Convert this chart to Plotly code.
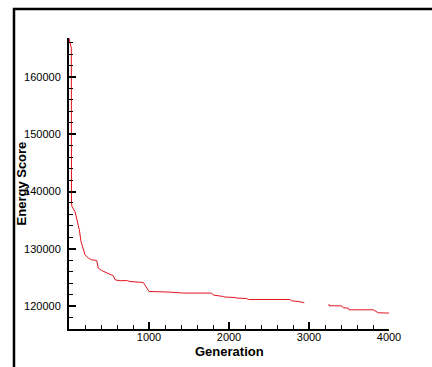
import plotly.graph_objects as go

generation = [0, 29, 31, 37, 75, 87, 108, 129, 150, 179, 200, 241, 283, 346, 359, 366, 408, 471, 512, 554,
              575, 637, 721, 762, 929, 971, 1000, 1262, 1429, 1783, 1804, 1929, 1950, 2075, 2096, 2221,
              2241, 2762, 2783, 2866, 2887, 2941, None, 3250, 3250, 3408, 3429, 3491, 3500, 3804, 3846,
              3866, 4004]
energy = [166770, 165030, 138000, 137380, 136500, 135800, 134480, 133320, 131270, 130120, 128950, 128380,
          128080, 127960, 127210, 126630, 126210, 125860, 125580, 125290, 124590, 124420, 124470, 124290,
          124120, 123140, 122550, 122440, 122270, 122270, 121920, 121680, 121570, 121500, 121400, 121330,
          121150, 121150, 120920, 120800, 120750, 120580, None, 120350, 120050, 120050, 119700, 119650,
          119350, 119350, 118950, 118830, 118780]

x_ticks = [1000, 2000, 3000, 4000]
y_ticks = [120000, 130000, 140000, 150000, 160000]

fig = go.Figure()
fig.add_trace(go.Scatter(x=generation, y=energy, mode="lines",
                         line=dict(color="#e0141e", width=1), connectgaps=False,
                         showlegend=False, hoverinfo="skip"))

font = "Liberation Sans, Arial, sans-serif"
fig.update_layout(
    width=432, height=367,
    margin=dict(l=69, r=43, t=38, b=38),
    paper_bgcolor="white", plot_bgcolor="white",
    font=dict(family=font, size=11, color="black"),
    xaxis=dict(range=[0, 4000], tickvals=x_ticks, ticktext=[str(v) for v in x_ticks],
               ticks="inside", ticklen=7, tickwidth=1.5, tickcolor="black",
               showline=True, linecolor="black", linewidth=2, showgrid=False, zeroline=False,
               minor=dict(dtick=200, ticks="inside", ticklen=4, tickcolor="black", tickwidth=1, showgrid=False),
               tickfont=dict(size=11, family=font, color="black"), ticklabelstandoff=-3),
    yaxis=dict(range=[116000, 166800], tickvals=y_ticks, ticktext=[str(v) for v in y_ticks],
               ticks="inside", ticklen=7, tickwidth=1.5, tickcolor="black",
               showline=True, linecolor="black", linewidth=2, showgrid=False, zeroline=False,
               minor=dict(dtick=2000, tick0=0, ticks="inside", ticklen=4, tickcolor="black", tickwidth=1, showgrid=False),
               tickfont=dict(size=11, family=font, color="black"), ticklabelstandoff=4),
    shapes=[dict(type="rect", xref="paper", yref="paper",
                 x0=-0.1719, x1=1.2, y0=-0.2, y1=1.0997,
                 line=dict(color="black", width=2.5), fillcolor="rgba(0,0,0,0)", layer="below")],
    annotations=[
        dict(text="<b>Generation</b>", xref="paper", yref="paper", x=0.5, y=-0.079,
             xanchor="center", yanchor="middle", showarrow=False,
             font=dict(size=13, family=font, color="black")),
        dict(text="<b>Energy Score</b>", xref="paper", yref="paper", x=-0.147, y=0.5,
             xanchor="center", yanchor="middle", showarrow=False, textangle=-90,
             font=dict(size=13, family=font, color="black")),
    ],
)

fig.write_html("out.html")
